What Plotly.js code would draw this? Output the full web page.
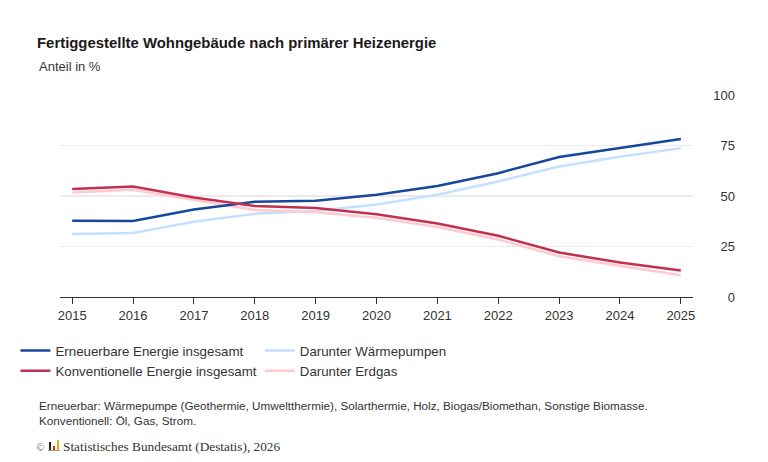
<!DOCTYPE html>
<html lang="de">
<head>
  <meta charset="UTF-8">
  <title>Fertiggestellte Wohngebäude nach primärer Heizenergie</title>
  <script src="https://cdn.plot.ly/plotly-3.0.1.min.js" charset="utf-8"></script>
  <style>
    html, body { margin: 0; padding: 0; background: #fff; }
    #chart { width: 768px; height: 462px; }
  </style>
</head>
<body>
  <div id="chart"></div>
  <script>
    // years and shares (%)
    const years = [2015, 2016, 2017, 2018, 2019, 2020, 2021, 2022, 2023, 2024, 2025];
    const erneuerbar = [37.8, 37.6, 43.3, 47.1, 47.7, 50.6, 55.0, 61.3, 69.3, 73.9, 78.2];
    const waermepumpen = [31.2, 31.7, 37.2, 41.2, 42.6, 45.8, 50.6, 57.2, 64.6, 69.4, 73.7];
    const konventionell = [53.5, 54.7, 49.3, 45.0, 44.0, 41.0, 36.4, 30.3, 22.0, 17.1, 13.1];
    const erdgas = [51.7, 53.1, 48.0, 43.1, 42.0, 39.2, 34.7, 28.5, 20.2, 15.4, 10.8];
    const yTicks = [0, 25, 50, 75, 100];

    const font = "Liberation Sans, Arial, sans-serif";

    var data = [
      {x: years, y: erneuerbar, name: 'Erneuerbare Energie insgesamt', legend: 'legend',
       type: 'scatter', mode: 'lines', line: {color: '#17479a', width: 2.5}},
      {x: years, y: konventionell, name: 'Konventionelle Energie insgesamt', legend: 'legend',
       type: 'scatter', mode: 'lines', line: {color: '#c3304f', width: 2.5}},
      {x: years, y: waermepumpen, name: 'Darunter Wärmepumpen', legend: 'legend2',
       type: 'scatter', mode: 'lines', line: {color: '#c4e0ff', width: 2.5}},
      {x: years, y: erdgas, name: 'Darunter Erdgas', legend: 'legend2',
       type: 'scatter', mode: 'lines', line: {color: '#ffcad0', width: 2.5}}
    ];
    // draw the lighter "darunter" lines below the main ones
    data = [data[2], data[3], data[0], data[1]];

    var legendStyle = {
      orientation: 'v', xanchor: 'left', yanchor: 'top', y: -0.19,
      font: {family: font, size: 13.3, color: '#333'}, bgcolor: 'rgba(0,0,0,0)',
      traceorder: 'normal', tracegroupgap: 0
    };

    var layout = {
      width: 768, height: 462,
      margin: {l: 60, r: 33, t: 95, b: 165},
      paper_bgcolor: '#fff', plot_bgcolor: '#fff',
      font: {family: font, size: 13, color: '#333'},
      title: {
        text: '<b>Fertiggestellte Wohngebäude nach primärer Heizenergie</b>',
        xref: 'container', yref: 'container', x: 37 / 768, xanchor: 'left',
        y: 1 - 43 / 462, yanchor: 'middle',
        font: {family: font, size: 14.9, color: '#1a1a1a'}
      },
      showlegend: true,
      legend: Object.assign({}, legendStyle, {x: -0.066}),
      legend2: Object.assign({}, legendStyle, {x: 0.296}),
      xaxis: {
        domain: [0, 633 / 675],
        range: [2014.8, 2025.2],
        tickvals: years,
        showgrid: false, zeroline: false,
        showline: true, linecolor: '#333', linewidth: 1,
        ticks: 'outside', ticklen: 6, tickcolor: '#333',
        tickfont: {family: font, size: 13, color: '#333'}
      },
      yaxis: {
        range: [0, 100],
        tickvals: yTicks,
        anchor: 'free', position: 1, side: 'left',
        showgrid: true, gridcolor: '#ebebeb', gridwidth: 1.2,
        zeroline: false, showline: false, ticks: '',
        tickfont: {family: font, size: 13, color: '#333'}
      },
      annotations: [
        {text: 'Anteil in %', xref: 'paper', yref: 'paper', x: -23 / 675, y: (297 - 66) / 202,
         xanchor: 'left', yanchor: 'middle', showarrow: false,
         font: {family: font, size: 13, color: '#333'}},
        {text: 'Erneuerbar: Wärmepumpe (Geothermie, Umweltthermie), Solarthermie, Holz, Biogas/Biomethan, Sonstige Biomasse.<br>Konventionell: Öl, Gas, Strom.',
         xref: 'paper', yref: 'paper', x: -23 / 675, y: (297 - 397) / 202,
         xanchor: 'left', yanchor: 'top', align: 'left', showarrow: false,
         font: {family: font, size: 11.7, color: '#333'}},
        {text: '©', xref: 'paper', yref: 'paper', x: -26 / 675, y: (297 - 447) / 202,
         xanchor: 'left', yanchor: 'middle', showarrow: false,
         font: {family: 'Liberation Serif, serif', size: 11, color: '#666'}},
        {text: 'Statistisches Bundesamt (Destatis), 2026', xref: 'paper', yref: 'paper',
         x: 1 / 675, y: (297 - 446) / 202, xanchor: 'left', yanchor: 'middle', showarrow: false,
         font: {family: 'Liberation Serif, serif', size: 13.3, color: '#333'}}
      ],
      // small Destatis logo bars
      shapes: [
        {type: 'rect', xref: 'paper', yref: 'paper', x0: -11 / 675, x1: -9 / 675,
         y0: (297 - 450) / 202, y1: (297 - 442) / 202, line: {width: 0}, fillcolor: '#222'},
        {type: 'rect', xref: 'paper', yref: 'paper', x0: -7 / 675, x1: -5 / 675,
         y0: (297 - 450) / 202, y1: (297 - 446) / 202, line: {width: 0}, fillcolor: '#d22'},
        {type: 'rect', xref: 'paper', yref: 'paper', x0: -3 / 675, x1: -1 / 675,
         y0: (297 - 450) / 202, y1: (297 - 440) / 202, line: {width: 0}, fillcolor: '#e8b000'},
        {type: 'rect', xref: 'paper', yref: 'paper', x0: -12 / 675, x1: 0,
         y0: (297 - 451) / 202, y1: (297 - 450) / 202, line: {width: 0}, fillcolor: '#999'}
      ]
    };

    Plotly.newPlot('chart', data, layout, {displayModeBar: false, staticPlot: true});
  </script>
</body>
</html>
